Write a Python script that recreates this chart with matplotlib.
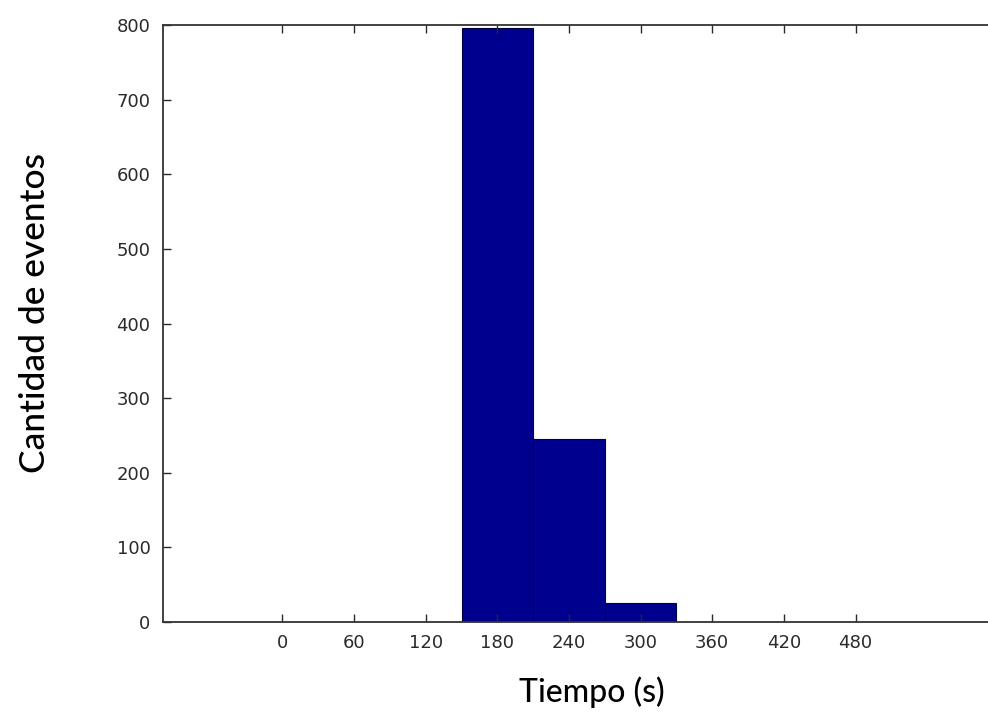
import matplotlib
matplotlib.use("Agg")
import matplotlib.pyplot as plt

plt.rcParams['font.family'] = ['DejaVu Sans']
plt.rcParams['savefig.bbox'] = None

# Data
bin_centers = [180, 240, 300]
counts = [796, 245, 25]
bin_width = 60
xticks = [0, 60, 120, 180, 240, 300, 360, 420, 480]
yticks = [0, 100, 200, 300, 400, 500, 600, 700, 800]

xmin, xmax = -100, 615
pxs = 1.194  # pixels per second
width_px = (xmax - xmin) * pxs

fig = plt.figure(figsize=(9.88, 7.23), dpi=100)
ax = fig.add_axes([163/988, 101/723, width_px/988, 597/723])

ax.bar(bin_centers, counts, width=bin_width, color='#00008f',
       edgecolor='#000040', linewidth=0.8, align='center')

ax.set_xlim(xmin, xmax)
ax.set_ylim(0, 800)
ax.set_xticks(xticks)
ax.set_yticks(yticks)
ax.tick_params(direction='in', top=True, right=False, length=6, width=1,
               labelsize=13, colors='#2a2a2a', pad=9)
for s in ax.spines.values():
    s.set_linewidth(1.3)
    s.set_color('#333333')
ax.spines['right'].set_visible(False)

ax.set_xlabel('Tiempo (s)', fontsize=23, family='Lato', weight='medium')
ax.xaxis.set_label_coords((592-163)/width_px, -(692-622)/597)
ax.xaxis.label.set_va('center')
ax.set_ylabel('Cantidad de eventos', fontsize=25.5, family='Lato', weight='medium')
ax.yaxis.set_label_coords(-(163-35)/width_px, (622-313)/597)
ax.yaxis.label.set_va('center')

fig.savefig('out.png', dpi=100)
